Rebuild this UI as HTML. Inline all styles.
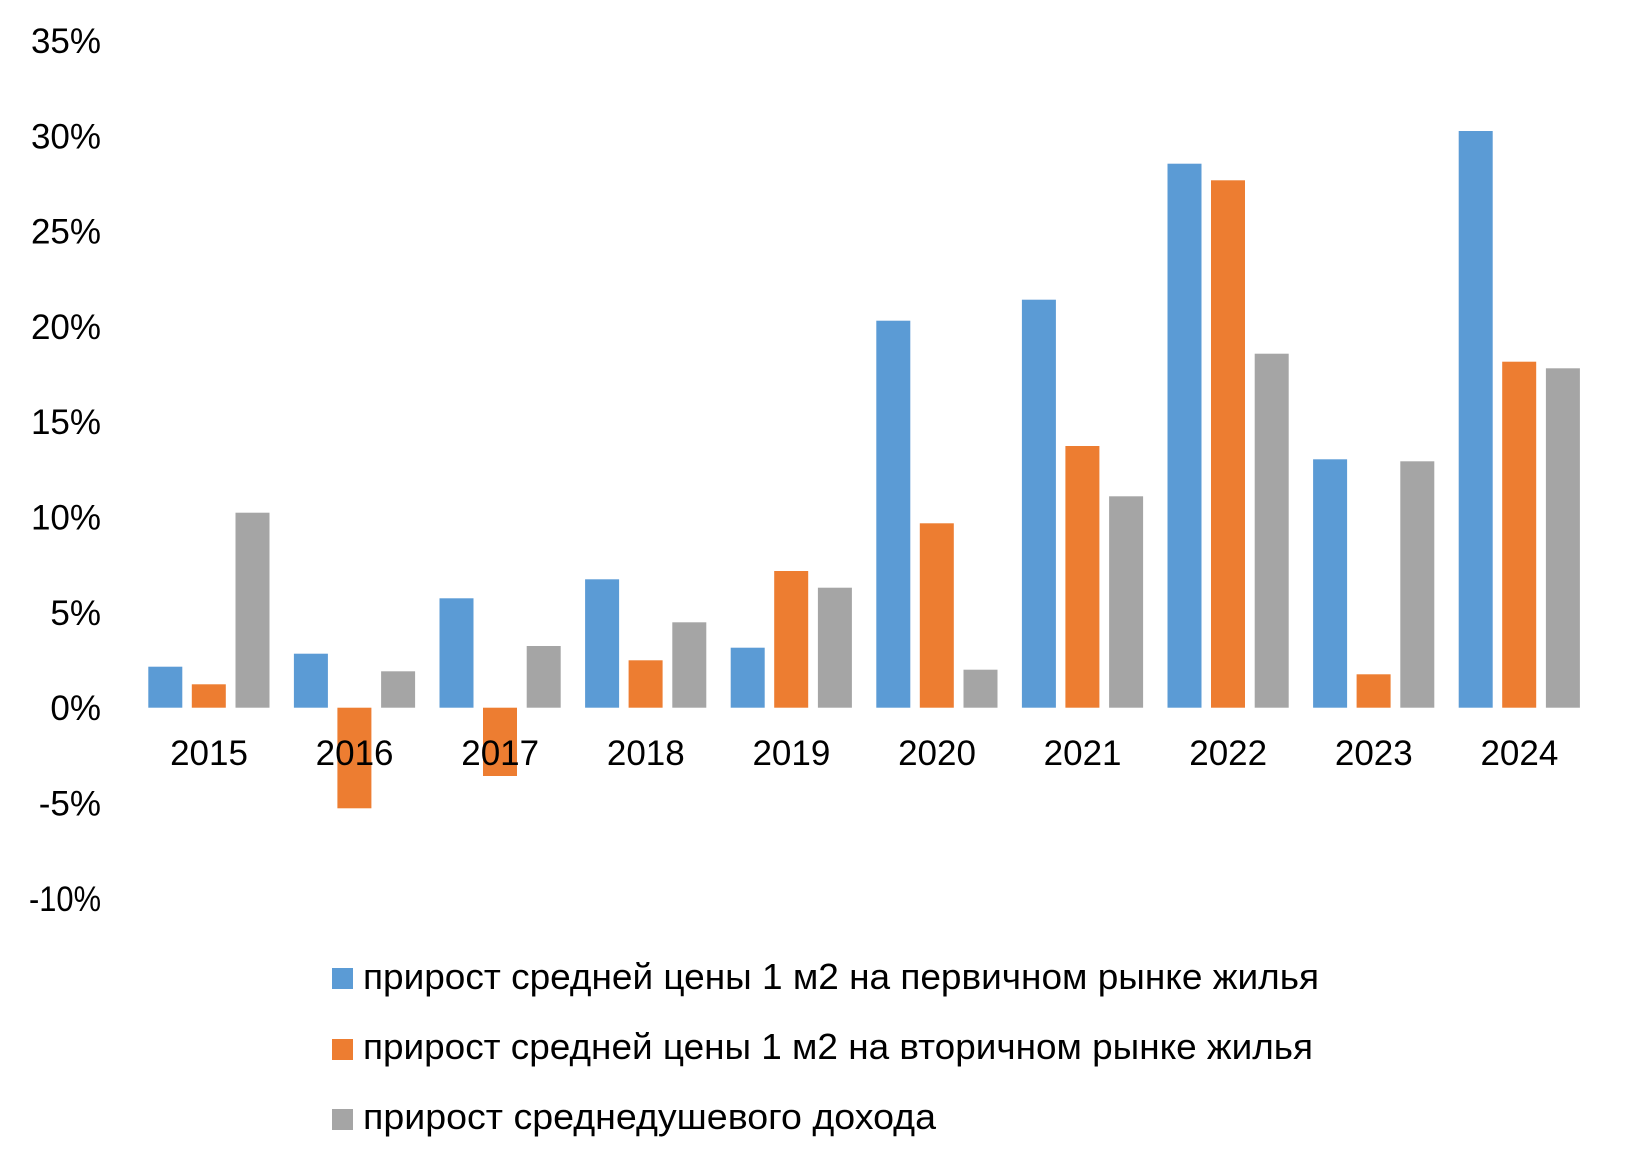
<!DOCTYPE html>
<html>
<head>
<meta charset="utf-8">
<style>
  html, body { margin:0; padding:0; background:#ffffff; }
  svg { display:block; }
  text { font-family: "Liberation Sans", "DejaVu Sans", sans-serif; fill:#000; }
</style>
</head>
<body>
<svg width="1639" height="1173" viewBox="0 0 1639 1173" xmlns="http://www.w3.org/2000/svg">
  <rect x="0" y="0" width="1639" height="1173" fill="#ffffff"/>

  <!-- Y axis labels -->
  <g font-size="35" text-anchor="end">
    <text x="101" y="53">35%</text>
    <text x="101" y="148.5">30%</text>
    <text x="101" y="243.5">25%</text>
    <text x="101" y="339">20%</text>
    <text x="101" y="434">15%</text>
    <text x="101" y="529.5">10%</text>
    <text x="101" y="625">5%</text>
    <text x="101" y="720">0%</text>
    <text x="101" y="815.5">-5%</text>
  </g>
  <text x="29" y="911" font-size="35" textLength="72" lengthAdjust="spacingAndGlyphs">-10%</text>

  <!-- Bars: blue -->
  <g fill="#5B9BD5">
    <rect x="148.3" y="666.7" width="34" height="41"/>
    <rect x="293.9" y="653.7" width="34" height="54"/>
    <rect x="439.5" y="598.3" width="34" height="109.4"/>
    <rect x="585.1" y="579.3" width="34" height="128.4"/>
    <rect x="730.7" y="647.7" width="34" height="60"/>
    <rect x="876.3" y="320.7" width="34" height="387"/>
    <rect x="1021.9" y="299.7" width="34" height="408"/>
    <rect x="1167.5" y="163.7" width="34" height="544"/>
    <rect x="1313.1" y="459.3" width="34" height="248.4"/>
    <rect x="1458.7" y="131" width="34" height="576.7"/>
  </g>

  <!-- Bars: orange -->
  <g fill="#ED7D31">
    <rect x="191.8" y="684.3" width="34" height="23.4"/>
    <rect x="337.4" y="707.7" width="34" height="100.6"/>
    <rect x="483" y="707.7" width="34" height="68.3"/>
    <rect x="628.6" y="660.3" width="34" height="47.4"/>
    <rect x="774.2" y="571" width="34" height="136.7"/>
    <rect x="919.8" y="523.3" width="34" height="184.4"/>
    <rect x="1065.4" y="446" width="34" height="261.7"/>
    <rect x="1211" y="180.3" width="34" height="527.4"/>
    <rect x="1356.6" y="674.3" width="34" height="33.4"/>
    <rect x="1502.2" y="361.7" width="34" height="346"/>
  </g>

  <!-- Bars: gray -->
  <g fill="#A5A5A5">
    <rect x="235.5" y="512.7" width="34" height="195"/>
    <rect x="381.1" y="671.3" width="34" height="36.4"/>
    <rect x="526.7" y="646" width="34" height="61.7"/>
    <rect x="672.3" y="622.3" width="34" height="85.4"/>
    <rect x="817.9" y="587.7" width="34" height="120"/>
    <rect x="963.5" y="669.7" width="34" height="38"/>
    <rect x="1109.1" y="496.3" width="34" height="211.4"/>
    <rect x="1254.7" y="353.7" width="34" height="354"/>
    <rect x="1400.3" y="461.3" width="34" height="246.4"/>
    <rect x="1545.9" y="368.3" width="34" height="339.4"/>
  </g>

  <!-- X axis category labels -->
  <g font-size="35" text-anchor="middle">
    <text x="209" y="765">2015</text>
    <text x="354.6" y="765">2016</text>
    <text x="500.2" y="765">2017</text>
    <text x="645.8" y="765">2018</text>
    <text x="791.4" y="765">2019</text>
    <text x="937" y="765">2020</text>
    <text x="1082.6" y="765">2021</text>
    <text x="1228.2" y="765">2022</text>
    <text x="1373.8" y="765">2023</text>
    <text x="1519.4" y="765">2024</text>
  </g>

  <!-- Legend -->
  <rect x="332" y="968" width="21" height="21" fill="#5B9BD5"/>
  <rect x="332" y="1039" width="21" height="21" fill="#ED7D31"/>
  <rect x="332" y="1109" width="21" height="21" fill="#A5A5A5"/>
  <g font-size="36">
    <text x="363" y="989" textLength="956" lengthAdjust="spacingAndGlyphs">прирост средней цены 1 м2 на первичном рынке жилья</text>
    <text x="363" y="1059" textLength="950" lengthAdjust="spacingAndGlyphs">прирост средней цены 1 м2 на вторичном рынке жилья</text>
    <text x="363" y="1129" textLength="573" lengthAdjust="spacingAndGlyphs">прирост среднедушевого дохода</text>
  </g>
</svg>
</body>
</html>
